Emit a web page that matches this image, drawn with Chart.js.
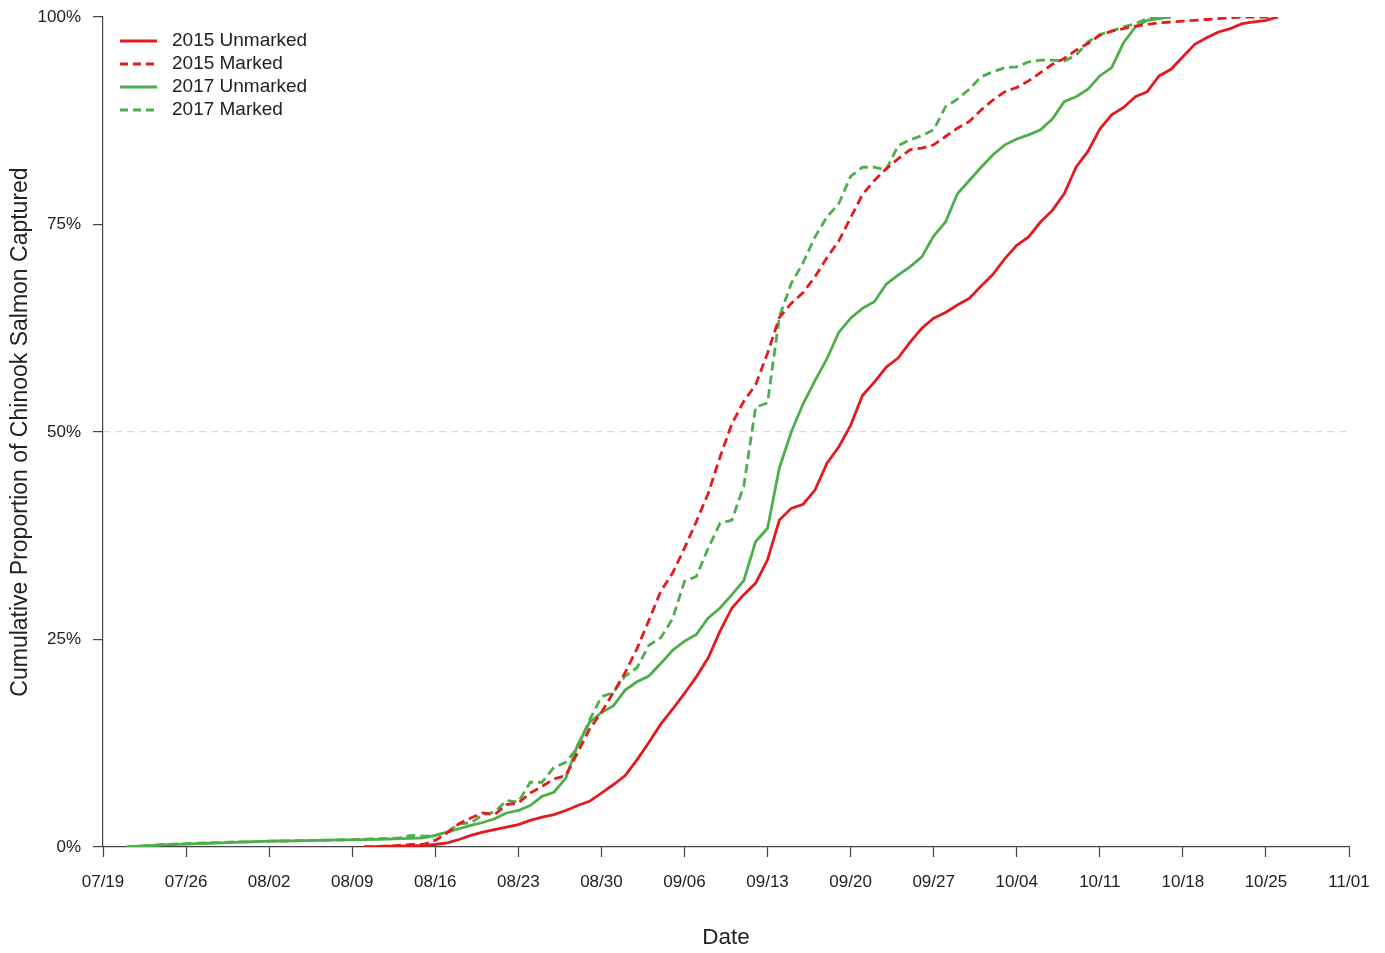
<!DOCTYPE html>
<html>
<head>
<meta charset="utf-8">
<script src="https://cdn.jsdelivr.net/npm/chart.js@4.4.1/dist/chart.umd.min.js"></script>
<style>
  html, body { margin: 0; padding: 0; background: #ffffff; }
  #wrap { width: 1385px; height: 953px; }
</style>
</head>
<body>
<div id="wrap"><canvas id="c" width="1385" height="953"></canvas></div>
<script>
// ---- Data (days counted from 07/19; values = cumulative % captured) ----
const tickLabels = ['07/19','07/26','08/02','08/09','08/16','08/23','08/30','09/06','09/13','09/20','09/27','10/04','10/11','10/18','10/25','11/01'];
const seriesNames = ['2015 Unmarked','2015 Marked','2017 Unmarked','2017 Marked'];

const start2015Unmarked = 22;
const values2015Unmarked = [
  0, 0.05, 0.1, 0.1, 0.15, 0.2, 0.3, 0.5, 0.9, 1.4, 1.8, 2.1, 2.4, 2.7, 3.2, 3.6, 3.9, 4.4, 5.0, 5.5,
  6.5, 7.5, 8.6, 10.5, 12.6, 14.8, 16.6, 18.5, 20.5, 22.8, 26.0, 28.8, 30.4, 31.8, 34.6, 39.4, 40.8, 41.3, 43.0, 46.2,
  48.2, 50.8, 54.4, 56.0, 57.8, 58.9, 60.8, 62.5, 63.7, 64.4, 65.3, 66.1, 67.6, 69.0, 70.9, 72.5, 73.5, 75.3, 76.7, 78.7,
  81.9, 83.8, 86.5, 88.2, 89.1, 90.4, 91.0, 92.9, 93.7, 95.2, 96.7, 97.5, 98.2, 98.6, 99.2, 99.4, 99.6, 100
];

const start2015Marked = 22;
const values2015Marked = [
  0, 0.05, 0.1, 0.2, 0.3, 0.3, 0.8, 1.7, 2.8, 3.5, 4.1, 3.9, 5.1, 5.3, 6.5, 7.3, 8.2, 8.6, 11.4, 14.2,
  16.2, 18.6, 21.0, 23.9, 27.3, 30.8, 33.0, 36.0, 39.2, 42.6, 47.0, 51.0, 53.7, 55.7, 59.5, 63.8, 65.5, 66.8, 68.7, 71.0,
  73.0, 75.8, 78.6, 80.3, 81.7, 82.9, 84.0, 84.2, 84.6, 85.6, 86.6, 87.4, 88.8, 90.0, 91.0, 91.5, 92.3, 93.3, 94.3, 95.0,
  96.0, 96.8, 97.8, 98.3, 98.6, 98.9, 99.1, 99.3, 99.4, 99.5, 99.6, 99.7, 99.8, 99.9, 100, 100, 100, 100
];

const start2017Unmarked = 2;
const values2017Unmarked = [
  0, 0.1, 0.15, 0.25, 0.3, 0.35, 0.4, 0.45, 0.5, 0.55, 0.6, 0.65, 0.7, 0.72, 0.75, 0.78, 0.8, 0.82, 0.85, 0.87,
  0.9, 0.92, 0.95, 1.0, 1.05, 1.1, 1.4, 1.8, 2.2, 2.6, 2.95, 3.4, 4.1, 4.4, 5.0, 6.1, 6.6, 8.3, 12.3, 15.0,
  16.2, 17.0, 18.9, 19.9, 20.6, 22.1, 23.7, 24.8, 25.6, 27.6, 28.8, 30.4, 32.1, 36.8, 38.4, 45.7, 50.0, 53.4, 56.2, 58.8,
  62.0, 63.7, 64.9, 65.7, 67.8, 68.9, 69.9, 71.1, 73.6, 75.3, 78.7, 80.3, 81.9, 83.4, 84.6, 85.3, 85.8, 86.4, 87.7, 89.8,
  90.4, 91.3, 92.9, 93.9, 96.9, 98.8, 99.6, 99.8, 100
];

const start2017Marked = 2;
const values2017Marked = [
  0, 0.1, 0.2, 0.3, 0.35, 0.4, 0.45, 0.5, 0.55, 0.6, 0.62, 0.65, 0.7, 0.72, 0.75, 0.78, 0.8, 0.82, 0.85, 0.9,
  0.95, 1.0, 1.0, 1.1, 1.4, 1.3, 1.4, 1.8, 2.8, 2.9, 3.9, 4.2, 5.6, 5.4, 7.8, 7.8, 9.6, 10.2, 12.0, 15.3,
  18.1, 18.6, 20.6, 21.6, 24.3, 25.2, 27.5, 32.0, 32.6, 36.0, 39.0, 39.4, 43.5, 53.0, 53.5, 63.9, 67.9, 70.4, 73.5, 75.9,
  77.5, 80.8, 81.9, 81.9, 81.6, 84.5, 85.2, 85.7, 86.4, 89.2, 90.1, 91.3, 92.8, 93.4, 93.9, 94.0, 94.6, 94.8, 94.8, 94.7,
  95.4, 97.0, 97.9, 98.3, 98.8, 99.2, 99.8, 100
];

// ---- Styling ----
const RED = '#E41A1C';
const GREEN = '#4DAF4A';
const FONT = '"Liberation Sans", Arial, sans-serif';
const DASH = [9, 5];

function toPoints(startDay, vals) {
  return vals.map((v, i) => ({ x: startDay + i, y: v }));
}

const datasets = [
  { label: seriesNames[0], data: toPoints(start2015Unmarked, values2015Unmarked), borderColor: RED, borderDash: [] },
  { label: seriesNames[1], data: toPoints(start2015Marked, values2015Marked), borderColor: RED, borderDash: DASH },
  { label: seriesNames[2], data: toPoints(start2017Unmarked, values2017Unmarked), borderColor: GREEN, borderDash: [] },
  { label: seriesNames[3], data: toPoints(start2017Marked, values2017Marked), borderColor: GREEN, borderDash: DASH }
].map(d => Object.assign(d, { borderWidth: 2.8, pointRadius: 0, tension: 0, fill: false, backgroundColor: d.borderColor }));

const legendPlugin = {
  id: 'insideLegend',
  afterDraw(chart) {
    const ctx = chart.ctx;
    const x0 = chart.chartArea.left + 17;
    const lineLen = 37;
    const textX = x0 + lineLen + 15;
    const y0 = chart.chartArea.top + 24;
    const step = 23;
    ctx.save();
    ctx.font = '19px ' + FONT;
    ctx.textBaseline = 'middle';
    ctx.textAlign = 'left';
    chart.data.datasets.forEach((ds, i) => {
      const y = y0 + i * step;
      ctx.strokeStyle = ds.borderColor;
      ctx.lineWidth = 3;
      ctx.setLineDash(ds.borderDash && ds.borderDash.length ? [8, 5] : []);
      ctx.beginPath();
      ctx.moveTo(x0, y);
      ctx.lineTo(x0 + lineLen, y);
      ctx.stroke();
      ctx.setLineDash([]);
      ctx.fillStyle = '#222';
      ctx.fillText(ds.label, textX, y);
    });
    ctx.restore();
  }
};

new Chart(document.getElementById('c'), {
  type: 'line',
  data: { datasets },
  options: {
    responsive: false,
    animation: false,
    layout: { padding: { top: 17, right: 36, left: 0, bottom: 0 } },
    plugins: { legend: { display: false }, tooltip: { enabled: false } },
    scales: {
      x: {
        type: 'linear',
        min: 0, max: 105,
        afterFit(scale) { scale.height = 106; scale.paddingLeft = 0; scale.paddingRight = 0; },
        ticks: {
          stepSize: 7, autoSkip: false, maxRotation: 0, minRotation: 0,
          padding: 15, color: '#222', font: { family: FONT, size: 17 },
          callback: (v) => tickLabels[Math.round(v / 7)]
        },
        grid: { drawOnChartArea: false, drawTicks: true, tickLength: 10, tickColor: '#444', tickWidth: 1.2 },
        border: { display: true, color: '#444', width: 1.2 },
        title: { display: true, text: 'Date', color: '#222', font: { family: FONT, size: 22.5 }, padding: { top: 0, bottom: 1.5 } }
      },
      y: {
        min: 0, max: 100,
        afterFit(scale) { scale.width = 103; scale.paddingTop = 0; scale.paddingBottom = 0; },
        ticks: {
          stepSize: 25, padding: 12, color: '#222', font: { family: FONT, size: 17 },
          callback: (v) => v + '%'
        },
        grid: {
          drawOnChartArea: true, drawTicks: true, tickLength: 10,
          color: (c) => (c.tick && c.tick.value === 50 ? '#d9d9d9' : 'rgba(0,0,0,0)'),
          lineWidth: 1.2,
          tickColor: '#444', tickWidth: 1.2
        },
        border: { display: true, color: '#444', width: 1.2, dash: [7, 5] },
        title: { display: true, text: 'Cumulative Proportion of Chinook Salmon Captured', color: '#222', font: { family: FONT, size: 23 }, padding: { top: 7, bottom: 0 } }
      }
    }
  },
  plugins: [legendPlugin]
});
</script>
</body>
</html>
